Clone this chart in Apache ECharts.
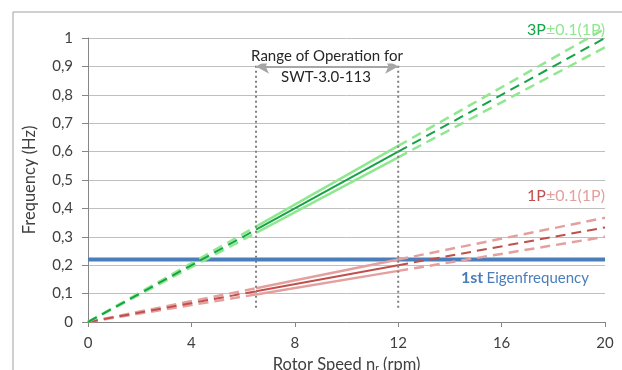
<!DOCTYPE html>
<html>
<head>
<meta charset="utf-8">
<script src="https://cdn.jsdelivr.net/npm/echarts@6/dist/echarts.min.js"></script>
<style>html,body{margin:0;padding:0;background:#fff}#c{width:622px;height:370px}</style>
</head>
<body>
<div id="c"></div>
<script>
// Data
const rpm      = [0, 6.5, 12, 20];
const f1P      = [0, 0.108, 0.200, 0.333];
const f1PUpper = [0, 0.119, 0.220, 0.367];
const f1PLower = [0, 0.097, 0.180, 0.300];
const f3P      = [0, 0.325, 0.600, 1.000];
const f3PUpper = [0, 0.336, 0.620, 1.033];
const f3PLower = [0, 0.314, 0.580, 0.967];
const eigenFreq = 0.22;
const rpmRange = [0, 20];
const opRange = [6.5, 12];
const opLineSpan = [0.05, 0.915];
const arrowLevel = 0.9;
const xTicks = [0, 4, 8, 12, 16, 20];
const yTicks = [0, 0.1, 0.2, 0.3, 0.4, 0.5, 0.6, 0.7, 0.8, 0.9, 1];

const FONT = 'Lato';
function pts(ys, i0, i1) {
  const out = [];
  for (let i = i0; i <= i1; i++) out.push([rpm[i], ys[i]]);
  return out;
}
function segSeries(ys, color, width) {
  const base = {type: 'line', symbol: 'none', clip: false, silent: true, animation: false};
  return [
    Object.assign({}, base, {data: pts(ys, 0, 1), lineStyle: {color, width, type: [10, 6]}}),
    Object.assign({}, base, {data: pts(ys, 1, 2), lineStyle: {color, width, type: 'solid'}}),
    Object.assign({}, base, {data: pts(ys, 2, 3), lineStyle: {color, width, type: [10, 6]}})
  ];
}
const lightGreen = '#8fe88f', darkGreen = '#16a347';
const lightRed = '#e3a09e', darkRed = '#c0504d';
const blue = '#4a7ebb';
const textColor = '#404040';

const series = [].concat(
  segSeries(f1PUpper, lightRed, 2.5),
  segSeries(f1PLower, lightRed, 2.5),
  segSeries(f1P, darkRed, 2),
  segSeries(f3PUpper, lightGreen, 2.5),
  segSeries(f3PLower, lightGreen, 2.5),
  segSeries(f3P, darkGreen, 2),
  [{
    type: 'line', symbol: 'none', silent: true, animation: false,
    data: [[rpmRange[0], eigenFreq], [rpmRange[1], eigenFreq]],
    lineStyle: {color: blue, width: 4}, z: 1
  }],
  opRange.map(x => ({
    type: 'line', symbol: 'none', silent: true, animation: false,
    data: [[x, opLineSpan[0]], [x, opLineSpan[1]]],
    lineStyle: {color: '#7f7f7f', width: 2, type: [2, 3]}
  })),
  [{
    type: 'line', symbol: 'none', silent: true, animation: false, data: [],
    markLine: {
      silent: true, animation: false,
      symbol: ['arrow', 'arrow'], symbolSize: [11, 13],
      lineStyle: {color: '#a6a6a6', width: 2, type: 'solid'},
      label: {show: false},
      data: [[{coord: [opRange[0], arrowLevel]}, {coord: [opRange[1], arrowLevel]}]]
    }
  }]
);

const chart = echarts.init(document.getElementById('c'), null, {renderer: 'canvas'});
chart.setOption({
  animation: false,
  backgroundColor: '#fff',
  grid: {left: 88, right: 17, top: 38, bottom: 48, containLabel: false, outerBoundsMode: 'none'},
  xAxis: {
    type: 'value', min: xTicks[0], max: xTicks[xTicks.length - 1], interval: 4,
    axisLine: {show: true, lineStyle: {color: '#868686', width: 1}},
    axisTick: {show: true, inside: false, length: 5, lineStyle: {color: '#868686'}},
    splitLine: {show: false},
    axisLabel: {color: textColor, fontFamily: FONT, fontSize: 15, margin: 14},
    name: 'Rotor Speed n{s|r} (rpm)',
    nameLocation: 'middle', nameGap: 33,
    nameTextStyle: {color: textColor, fontFamily: FONT, fontSize: 16.5,
      rich: {s: {fontSize: 10, verticalAlign: 'bottom', padding: [7, 0, 0, 0], color: textColor, fontFamily: FONT}}}
  },
  yAxis: {
    type: 'value', min: yTicks[0], max: yTicks[yTicks.length - 1], interval: 0.1,
    axisLine: {show: true, lineStyle: {color: '#868686', width: 1}},
    axisTick: {show: true, inside: false, length: 6, lineStyle: {color: '#868686'}},
    splitLine: {show: true, lineStyle: {color: '#bfbfbf', width: 1}},
    axisLabel: {color: textColor, fontFamily: FONT, fontSize: 15, margin: 15,
      formatter: v => String(Math.round(v * 10) / 10).replace('.', ',')},
    name: 'Frequency (Hz)', nameLocation: 'middle', nameGap: 50, nameRotate: 90,
    nameTextStyle: {color: textColor, fontFamily: FONT, fontSize: 16.5}
  },
  series: series,
  graphic: [
    {type: 'rect', shape: {x: 13, y: 12, width: 700, height: 400}, style: {fill: 'none', stroke: '#a0a0a0', lineWidth: 1}, z: -1, silent: true},
    {type: 'text', x: 327, y: 56, style: {text: 'Range of Operation for', font: '15px ' + FONT, fill: '#262626', align: 'center', verticalAlign: 'middle', backgroundColor: '#fff'}, z: 10},
    {type: 'text', x: 326, y: 77, style: {text: 'SWT-3.0-113', font: '15px ' + FONT, fill: '#262626', align: 'center', verticalAlign: 'middle'}, z: 10},
    {type: 'text', x: 605, y: 30, style: {text: '{a|3P}{b|±0.1(1P)}', align: 'right', verticalAlign: 'middle',
      rich: {a: {fill: darkGreen, font: '16px ' + FONT}, b: {fill: lightGreen, font: '16px ' + FONT}}}, z: 10},
    {type: 'text', x: 605, y: 196, style: {text: '{a|1P}{b|±0.1(1P)}', align: 'right', verticalAlign: 'middle',
      rich: {a: {fill: darkRed, font: '16px ' + FONT}, b: {fill: lightRed, font: '16px ' + FONT}}}, z: 10},
    {type: 'text', x: 461, y: 278, style: {text: '{a|1st} {b|Eigenfrequency}', align: 'left', verticalAlign: 'middle',
      rich: {a: {fill: blue, font: 'bold 16px ' + FONT}, b: {fill: blue, font: '15px ' + FONT}}}, z: 10}
  ]
});
</script>
</body>
</html>
